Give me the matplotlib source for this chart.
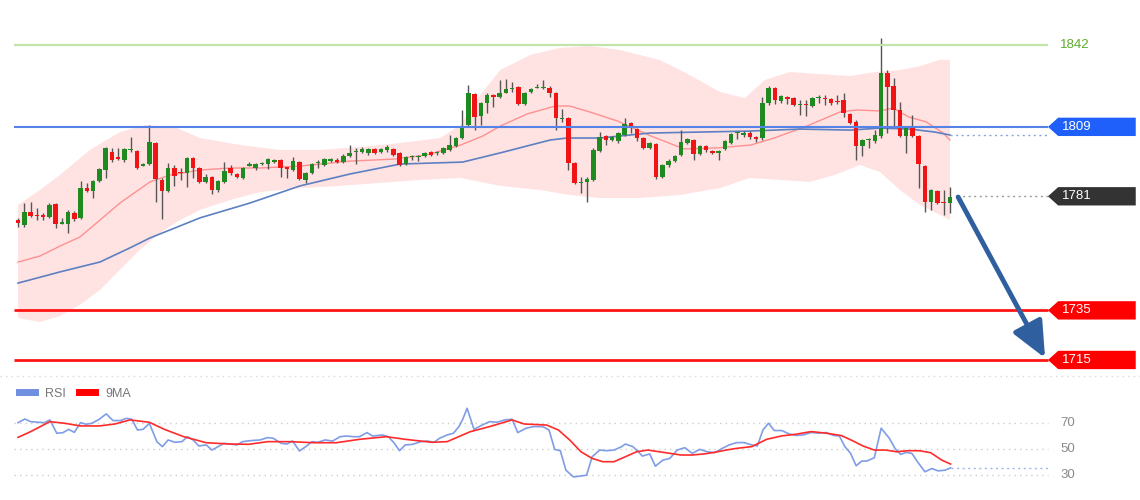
import matplotlib
matplotlib.use('Agg')  # no display
import matplotlib.pyplot as plt
from matplotlib.lines import Line2D
from matplotlib.patches import Polygon
import numpy as np

plt.rcParams['font.family'] = ['Liberation Sans', 'DejaVu Sans']

# candle prices, oldest first
opens = [1771.4, 1769.4, 1774.7, 1773.3, 1773.5, 1772.7, 1777.9, 1770.0, 1769.8, 1774.3,
         1772.3, 1784.3, 1783.1, 1787.2, 1791.6, 1798.9, 1796.5, 1795.6, 1799.6, 1799.3,
         1793.4, 1794.0, 1802.5, 1787.6, 1783.1, 1792.4, 1790.6, 1790.4, 1796.4, 1792.4,
         1786.8, 1788.8, 1783.5, 1786.8, 1792.4, 1790.0, 1788.4, 1793.4, 1792.4, 1794.0,
         1794.0, 1794.8, 1795.6, 1792.5, 1791.6, 1794.8, 1787.6, 1790.4, 1794.3, 1793.6,
         1795.2, 1795.6, 1794.8, 1797.3, 1798.8, 1798.9, 1798.5, 1800.1, 1798.9, 1799.7,
         1800.1, 1798.5, 1794.0, 1796.8, 1796.9, 1797.3, 1798.9, 1798.4, 1798.5, 1799.7,
         1801.3, 1804.5, 1809.8, 1822.2, 1813.4, 1818.6, 1821.8, 1821.0, 1822.7, 1824.3,
         1825.1, 1818.2, 1823.1, 1824.7, 1824.6, 1824.7, 1822.7, 1812.1, 1812.6, 1794.4,
         1786.4, 1786.8, 1787.6, 1799.3, 1805.3, 1803.7, 1803.3, 1805.7, 1810.6, 1808.1,
         1804.5, 1800.5, 1802.1, 1788.8, 1793.6, 1795.2, 1797.7, 1802.5, 1803.7, 1798.1,
         1801.3, 1799.3, 1798.5, 1800.1, 1802.5, 1806.4, 1805.7, 1806.5, 1804.9, 1804.5,
         1818.6, 1824.7, 1819.4, 1821.0, 1820.6, 1817.7, 1817.9, 1817.4, 1820.5, 1820.3,
         1820.2, 1819.1, 1819.8, 1814.2, 1811.0, 1801.3, 1803.6, 1803.3, 1805.3, 1830.7,
         1825.5, 1815.8, 1805.3, 1808.9, 1805.3, 1793.2, 1778.7, 1783.1, 1778.4, 1778.3]
highs = [1772.3, 1778.3, 1778.7, 1776.3, 1774.3, 1778.3, 1778.3, 1772.3, 1775.5, 1775.0,
         1787.0, 1786.4, 1787.6, 1792.4, 1800.9, 1800.5, 1800.5, 1800.5, 1804.9, 1799.7,
         1794.4, 1809.8, 1802.9, 1788.4, 1794.4, 1793.6, 1792.4, 1796.9, 1796.9, 1792.8,
         1790.0, 1789.2, 1787.6, 1794.8, 1793.6, 1790.4, 1792.8, 1794.8, 1794.4, 1794.8,
         1796.4, 1796.0, 1796.0, 1792.8, 1796.9, 1795.2, 1790.8, 1794.4, 1795.6, 1796.4,
         1796.4, 1796.4, 1798.1, 1801.7, 1800.5, 1800.9, 1800.5, 1800.5, 1800.5, 1801.7,
         1800.5, 1798.9, 1797.3, 1797.7, 1797.7, 1798.9, 1799.3, 1799.3, 1800.9, 1805.7,
         1804.9, 1815.8, 1825.9, 1822.7, 1819.0, 1822.7, 1822.2, 1827.9, 1828.3, 1827.1,
         1825.5, 1823.1, 1824.7, 1826.3, 1827.9, 1825.5, 1823.1, 1816.2, 1813.0, 1794.8,
         1788.8, 1788.8, 1800.5, 1806.9, 1805.7, 1805.3, 1806.9, 1812.6, 1811.0, 1808.5,
         1804.9, 1802.9, 1802.5, 1794.0, 1796.0, 1797.7, 1807.7, 1804.5, 1804.1, 1801.7,
         1801.7, 1799.7, 1799.7, 1803.7, 1806.5, 1807.3, 1807.3, 1807.3, 1805.3, 1821.0,
         1825.5, 1825.1, 1821.8, 1821.4, 1821.0, 1819.8, 1819.8, 1821.0, 1821.8, 1821.8,
         1820.6, 1821.8, 1822.7, 1814.6, 1811.8, 1804.1, 1804.5, 1807.7, 1844.8, 1831.9,
         1828.7, 1819.0, 1809.3, 1813.8, 1805.7, 1793.6, 1784.0, 1783.5, 1783.5, 1784.7]
lows = [1768.6, 1768.6, 1772.7, 1771.4, 1771.4, 1772.3, 1768.2, 1769.8, 1766.2, 1771.0,
        1771.9, 1782.7, 1780.3, 1786.8, 1788.4, 1794.8, 1795.6, 1794.8, 1798.9, 1792.0,
        1793.2, 1793.6, 1778.7, 1771.9, 1782.7, 1785.2, 1787.6, 1784.7, 1788.4, 1786.4,
        1786.4, 1781.9, 1782.7, 1786.4, 1789.6, 1788.4, 1788.0, 1793.2, 1791.6, 1793.6,
        1792.0, 1794.4, 1788.8, 1788.4, 1791.2, 1787.6, 1786.4, 1790.0, 1792.4, 1793.2,
        1794.8, 1794.4, 1794.4, 1796.9, 1794.0, 1798.5, 1797.7, 1798.1, 1798.5, 1798.9,
        1797.3, 1793.2, 1793.6, 1795.6, 1795.2, 1796.9, 1797.3, 1797.7, 1798.1, 1799.3,
        1800.9, 1804.3, 1808.9, 1807.7, 1809.8, 1814.6, 1817.0, 1820.6, 1822.5, 1823.1,
        1817.8, 1817.8, 1822.7, 1824.7, 1824.3, 1821.0, 1807.7, 1811.0, 1791.6, 1786.0,
        1782.3, 1778.7, 1787.2, 1798.9, 1801.7, 1803.3, 1802.5, 1805.3, 1806.5, 1803.3,
        1800.1, 1800.1, 1788.0, 1788.4, 1792.8, 1794.8, 1797.3, 1802.1, 1795.6, 1797.7,
        1798.9, 1798.1, 1795.6, 1799.7, 1802.1, 1804.1, 1804.9, 1804.1, 1802.9, 1803.7,
        1817.8, 1818.2, 1818.6, 1818.2, 1817.4, 1813.8, 1813.4, 1817.0, 1818.6, 1817.8,
        1817.8, 1818.2, 1813.0, 1810.2, 1795.6, 1797.3, 1800.5, 1802.5, 1804.5, 1806.5,
        1808.9, 1804.9, 1798.5, 1804.9, 1784.3, 1774.7, 1775.5, 1777.9, 1773.5, 1774.3]
closes = [1770.2, 1774.7, 1773.1, 1773.0, 1772.7, 1777.5, 1769.8, 1770.3, 1774.7, 1771.9,
          1784.3, 1783.1, 1787.2, 1792.0, 1800.5, 1795.6, 1796.2, 1800.1, 1799.8, 1792.4,
          1793.7, 1802.9, 1788.0, 1783.1, 1792.4, 1789.2, 1790.3, 1796.4, 1792.4, 1786.8,
          1788.8, 1783.5, 1787.2, 1791.2, 1790.4, 1788.8, 1792.4, 1793.7, 1794.0, 1794.4,
          1796.0, 1795.6, 1792.4, 1792.2, 1795.2, 1788.0, 1790.4, 1794.0, 1794.5, 1796.0,
          1796.0, 1794.8, 1797.3, 1798.5, 1799.0, 1800.1, 1800.1, 1798.5, 1800.1, 1800.9,
          1797.7, 1793.6, 1796.9, 1797.0, 1797.1, 1798.5, 1797.7, 1798.6, 1800.5, 1801.7,
          1804.5, 1809.3, 1822.7, 1813.0, 1818.6, 1821.8, 1821.0, 1822.7, 1824.3, 1824.7,
          1818.2, 1822.7, 1824.3, 1825.1, 1824.8, 1822.7, 1812.6, 1812.3, 1794.4, 1786.4,
          1786.8, 1788.0, 1799.7, 1804.9, 1803.7, 1804.9, 1806.5, 1810.2, 1808.5, 1804.5,
          1800.5, 1802.5, 1788.8, 1793.6, 1795.2, 1797.3, 1802.9, 1804.1, 1798.1, 1801.3,
          1799.7, 1798.5, 1799.3, 1803.3, 1806.1, 1806.6, 1806.5, 1804.9, 1804.1, 1818.6,
          1824.7, 1819.8, 1821.4, 1820.2, 1817.8, 1817.9, 1817.7, 1820.6, 1820.7, 1820.1,
          1818.6, 1818.9, 1814.6, 1810.6, 1801.3, 1803.7, 1803.8, 1805.7, 1830.7, 1825.1,
          1815.8, 1805.3, 1808.9, 1805.3, 1794.0, 1778.7, 1783.5, 1778.3, 1778.2, 1780.7]

# indicator lines: (candle index, value)
bb_upper = [(0, 1777.5), (3.5, 1783.5), (6.7, 1789.6), (11.5, 1799.7), (16.3, 1806.9),
            (20.3, 1809.7), (25.1, 1808.9), (29.1, 1804.5), (35.5, 1801.7), (41.9, 1799.7),
            (48.3, 1799.7), (54.7, 1800.9), (61.1, 1802.5), (67.5, 1804.5), (70.7, 1809.7),
            (73.9, 1821.8), (77.1, 1831.9), (81.9, 1838.0), (86.6, 1840.8), (91.4, 1841.6),
            (96.2, 1840.0), (102.6, 1836.0), (107.4, 1829.9), (112.2, 1823.1), (116.2, 1820.6),
            (119.4, 1827.9), (123.4, 1831.1), (128.2, 1830.3), (133, 1829.5), (137, 1831.1),
            (141, 1831.9), (144.2, 1833.5), (147.4, 1836.0), (149, 1836.0)]
bb_lower = [(0, 1731.9), (3.5, 1730.3), (6.7, 1732.7), (9.9, 1737.2), (13.1, 1743.2),
            (16.3, 1751.3), (19.5, 1759.4), (22.7, 1766.2), (25.9, 1771.4), (29.1, 1775.5),
            (33.9, 1779.5), (38.7, 1782.7), (45.1, 1784.3), (51.5, 1785.2), (57.9, 1786.4),
            (64.3, 1787.6), (70.7, 1788.4), (73.9, 1786.8), (77.1, 1785.2), (83.5, 1783.5),
            (88.2, 1781.5), (93, 1780.3), (99.4, 1780.3), (105.8, 1781.5), (112.2, 1784.3),
            (117, 1788.4), (121.8, 1787.6), (126.6, 1786.8), (130.6, 1789.6), (134.6, 1793.6),
            (137.8, 1790.8), (141, 1783.5), (144.2, 1777.5), (147.4, 1773.5), (149, 1771.4)]
bb_mid = [(0, 1754.5), (3.5, 1756.9), (6.7, 1760.9), (9.9, 1764.6), (13.1, 1771.4),
          (16.3, 1778.3), (21.1, 1786.8), (24.3, 1789.6), (29.1, 1791.6), (33.9, 1792.4),
          (38.7, 1792.4), (45.1, 1793.2), (53.1, 1795.2), (60.1, 1796.0), (65.4, 1797.7),
          (70.8, 1801.7), (74.3, 1805.3), (77.1, 1809.3), (81.4, 1814.2), (85.9, 1817.4),
          (88.2, 1817.4), (91.4, 1815.0), (95.8, 1811.4), (101.2, 1805.3), (106.5, 1800.1),
          (111.8, 1800.5), (117.2, 1801.7), (120.9, 1804.5), (126.1, 1809.3), (131.4, 1815.0),
          (134.1, 1815.8), (137.8, 1815.4), (139.9, 1816.6), (142.4, 1813.0), (145.2, 1811.0),
          (147.9, 1806.5), (149, 1803.7)]
ma_slow = [(0, 1746.0), (6.7, 1750.5), (13.1, 1754.5), (17.9, 1760.2), (21.1, 1764.2),
           (29.1, 1772.3), (37.1, 1778.3), (45.1, 1785.2), (53.1, 1790.0), (61.1, 1794.0),
           (71.1, 1794.8), (77.1, 1798.5), (85.1, 1803.7), (87.8, 1804.5), (93, 1804.5),
           (101, 1806.5), (109, 1806.9), (117, 1807.3), (125, 1808.1), (133, 1807.7),
           (137.8, 1808.5), (142.6, 1808.1), (146.6, 1806.9), (149, 1805.7)]

rsi = [(0, 70.1), (1.1, 72.9), (2, 70.9), (3.2, 70.4), (4.2, 70.1), (5.1, 72.2), (6.2, 62.0),
       (7.2, 62.5), (8.1, 65.0), (9, 62.7), (10, 70.1), (10.9, 68.9), (11.8, 69.6), (13, 72.7),
       (14.1, 76.8), (15.2, 71.7), (16.4, 71.7), (17.3, 73.4), (18.2, 72.7), (19.1, 64.5),
       (20, 65.0), (21, 69.6), (22.2, 55.6), (23.1, 51.8), (24, 56.9), (25.1, 55.1),
       (26.2, 55.6), (27.1, 59.4), (28, 56.9), (28.9, 52.3), (30.1, 53.1), (31, 49.2),
       (32, 51.8), (32.9, 54.3), (33.8, 53.8), (35, 53.1), (35.9, 55.6), (37.2, 56.4),
       (38.7, 56.9), (39.9, 58.7), (40.8, 58.2), (42.1, 54.3), (43, 53.8), (43.9, 56.1),
       (45, 48.5), (46, 51.8), (47, 55.6), (47.9, 55.1), (49.1, 56.9), (50.3, 56.1),
       (51.5, 59.4), (52.5, 59.9), (53.7, 59.4), (54.6, 59.4), (55.8, 62.5), (56.7, 59.9),
       (58.3, 60.7), (59.2, 59.4), (60.1, 54.8), (61, 48.7), (61.9, 53.1), (63.1, 53.6),
       (64.4, 55.6), (65.5, 56.1), (66.5, 55.1), (67.4, 58.2), (68.6, 60.7), (69.6, 62.0),
       (70.5, 67.1), (71.1, 72.7), (71.8, 81.1), (72.9, 65.0), (74.2, 68.3), (75.4, 70.9),
       (76.6, 70.4), (77.8, 72.2), (79, 72.7), (79.9, 62.5), (81.2, 65.8), (82.4, 67.1),
       (83.9, 67.1), (84.9, 64.5), (85.8, 49.7), (86.7, 48.7), (87.6, 33.8), (88.8, 28.7),
       (89.7, 29.2), (90.9, 30.0), (91.8, 44.1), (93, 49.2), (94.1, 48.7), (95.3, 49.2),
       (96.5, 51.8), (97.1, 53.8), (98.3, 51.8), (99.2, 47.9), (99.8, 44.6), (101, 46.2),
       (101.9, 36.9), (103.1, 41.5), (104.2, 42.8), (105.4, 49.2), (106.6, 51.0), (107.8, 46.7),
       (109, 49.7), (110.2, 47.9), (111.4, 47.2), (112.6, 50.5), (113.7, 53.1), (114.9, 54.9),
       (116.1, 54.9), (117.3, 53.1), (118.2, 52.3), (119.1, 64.6), (120, 69.7), (120.9, 64.1),
       (122.1, 64.1), (123.3, 61.5), (124.4, 60.3), (125.6, 60.8), (126.8, 62.6), (128, 62.1),
       (129.2, 62.6), (130.4, 60.3), (131.3, 60.0), (132.2, 51.8), (133.1, 46.7), (134, 37.2),
       (134.9, 40.8), (135.7, 40.8), (136.9, 43.3), (138, 65.9), (139.3, 58.2), (140.2, 50.5),
       (141.1, 45.9), (142, 47.4), (142.9, 46.7), (143.8, 40.3), (145, 32.6), (146.1, 35.1),
       (147.1, 33.3), (148.2, 33.8), (149.1, 35.6)]
rsi_ma = [(0, 58.9), (2, 63.2), (5.1, 70.9), (7.5, 69.6), (10, 67.6), (13, 67.6), (15.5, 69.1),
          (17.9, 72.2), (21, 70.4), (23.4, 65.0), (26.5, 59.4), (30.1, 54.8), (33.8, 53.8),
          (36.9, 53.6), (39.9, 55.6), (43.6, 55.6), (47.3, 54.8), (50.9, 54.8), (54.6, 57.4),
          (58.9, 59.4), (61.9, 57.4), (66.2, 55.1), (68.6, 55.6), (72.3, 63.2), (75.4, 67.1),
          (79, 72.2), (80.9, 69.1), (84.5, 68.3), (86.4, 64.5), (88.2, 56.9), (90, 47.9),
          (91.8, 42.8), (93.5, 40.3), (95.3, 40.3), (97.1, 44.1), (98.9, 47.9), (100.7, 49.2),
          (102.5, 47.9), (104.2, 46.7), (106, 45.4), (107.7, 45.4), (109.6, 46.2), (111.3, 47.4),
          (113.2, 49.2), (114.9, 50.5), (117.3, 51.8), (119.7, 57.4), (122.1, 60.0), (124.4, 61.3),
          (126.8, 63.3), (129.2, 62.1), (131.6, 60.3), (133.4, 56.4), (135.1, 52.3), (136.9, 49.2),
          (138.7, 49.2), (140.5, 47.9), (142.3, 48.7), (144.1, 48.7), (145.9, 47.2), (147.7, 41.5),
          (149.1, 38.5)]

resistance = 1842
pivot = 1809
last_price = 1781
supports = [1735, 1715]
rsi_levels = [70, 50, 30]
target = (164.2, 1715.8)

GREEN = '#1f8a1f'
RED = '#f01414'

# layout: one candle = 6.255 px, first candle 4 px right of the plot edge
XLIM = (-0.64, 179.38)
LINE_END = 164.67
TAG_X = (LINE_END, 166.3, 178.7)

fig = plt.figure(figsize=(11.4, 5.0), dpi=100)
ax = fig.add_axes([14 / 1140, 125 / 500, 1126 / 1140, 375 / 500])
ax2 = fig.add_axes([14 / 1140, 0, 1126 / 1140, 122 / 500])
for a in (ax, ax2):
    a.set_axis_off()
    a.set_xlim(*XLIM)
ax.set_ylim(1708.94, 1860.15)
ax2.set_ylim(11.07, 104.2)

x = np.arange(len(opens))
o, h, l, c = map(np.array, (opens, highs, lows, closes))

# bollinger band area
ux, uy = zip(*bb_upper)
lx, ly = zip(*bb_lower)
ax.fill(np.r_[ux, lx[::-1]], np.r_[uy, ly[::-1]], color='#ffe3e3', lw=0, zorder=1)
ax.plot(*zip(*bb_mid), color='#ff9090', lw=1, zorder=2)
ax.plot(*zip(*ma_slow), color='#5d80c2', lw=1.2, zorder=2)

# candles
ax.vlines(x, l, h, color='#555555', lw=1, zorder=3)
body_lo = np.minimum(o, c)
body_h = np.maximum(np.abs(c - o), 0.45)
colors = [GREEN if cc >= oo else RED for oo, cc in zip(o, c)]
ax.bar(x, body_h, bottom=body_lo, width=0.72, color=colors, lw=0, zorder=4)

# key levels
ax.hlines(resistance, XLIM[0], LINE_END, color='#c2e4ab', lw=1.6, zorder=5)
ax.hlines(pivot, XLIM[0], LINE_END, color='#5582e6', lw=1.5, zorder=5)
ax.hlines(supports, XLIM[0], LINE_END, color='#ff1414', lw=2, zorder=5)
ax.hlines(last_price, x[-1] + 1.2, LINE_END, color='#9a9a9a', lw=1, ls=(0, (1.5, 2.5)), zorder=5)
ax.hlines(ma_slow[-1][1], x[-1], LINE_END, color='#8aa4da', lw=1, ls=(0, (1.5, 2.5)), zorder=5)

ax.text(166.6, resistance, str(resistance), color='#5dab2b', fontsize=9.5,
        va='center', ha='left')


def tag(level, color):
    hh = 3.7
    pts = [(TAG_X[0], level), (TAG_X[1], level + hh), (TAG_X[2], level + hh),
           (TAG_X[2], level - hh), (TAG_X[1], level - hh)]
    ax.add_patch(Polygon(pts, closed=True, color=color, lw=0, zorder=6, clip_on=False))
    ax.text(TAG_X[1] + 0.6, level, str(level), color='white', fontsize=9.5,
            va='center', ha='left', zorder=7)


tag(pivot, '#1f5ffa')
tag(last_price, '#333333')
for s in supports:
    tag(s, '#ff0000')

ax.annotate('', xy=target, xytext=(x[-1] + 1.3, closes[-1]),
            arrowprops=dict(arrowstyle='-|>,head_width=0.45,head_length=1.0',
                            lw=3.5, color='#2f5f9f', shrinkA=0, shrinkB=0,
                            mutation_scale=22), zorder=8)

# separator between panels
fig.add_artist(Line2D([0, 1], [124.5 / 500] * 2, color='#d9d9d9', lw=1, ls=(0, (1, 3))))

# RSI panel
ax2.hlines(rsi_levels, XLIM[0], LINE_END, color='#cccccc', lw=1, ls=(0, (1, 3)))
for lv in rsi_levels:
    ax2.text(166.6, lv, str(lv), color='#8a8a8a', fontsize=9.5, va='center', ha='left')
ax2.plot(*zip(*rsi), color='#7f9de6', lw=1.2, zorder=3)
ax2.plot(*zip(*rsi_ma), color='#ff2b2b', lw=1.2, zorder=3)
ax2.hlines(rsi[-1][1], rsi[-1][0], LINE_END, color='#9fb4ea', lw=1, ls=(0, (1.5, 2.5)))

handles = [Line2D([], [], color='#6f8fe0', lw=5), Line2D([], [], color='#ff0000', lw=5)]
ax2.legend(handles, ['RSI', '9MA'], loc='upper left', bbox_to_anchor=(0.002, 0.94), ncol=2,
           frameon=False, fontsize=9, handlelength=1.3, columnspacing=1.05,
           handletextpad=0.8, borderaxespad=0, borderpad=0.2, labelcolor='#777777')

fig.savefig('out.png', dpi=100)
plt.close(fig)
